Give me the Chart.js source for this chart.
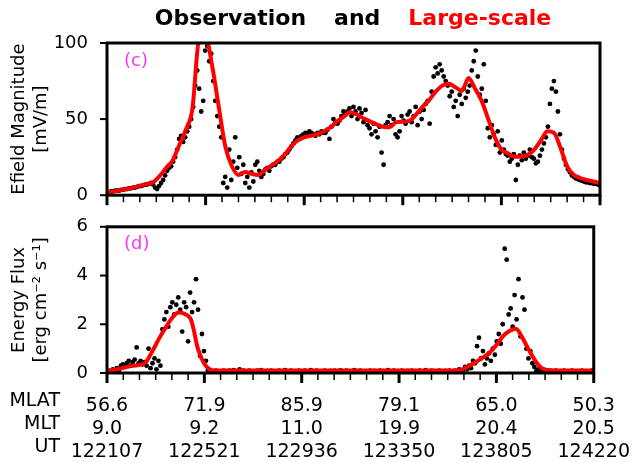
<!DOCTYPE html>
<html>
<head>
<meta charset="utf-8">
<script src="https://cdn.jsdelivr.net/npm/chart.js@4/dist/chart.umd.min.js"></script>
<style>
  html, body { margin: 0; padding: 0; background: #fff; }
  #wrap { position: relative; width: 644px; height: 462px; }
  canvas { position: absolute; left: 0; }
  #efieldChart { top: 0; }
  #fluxChart { top: 205px; }
</style>
</head>
<body>
<div id="wrap">
  <canvas id="efieldChart" width="644" height="217"></canvas>
  <canvas id="fluxChart" width="644" height="257"></canvas>
</div>
<script>
// x axis: seconds since 12:21:07 UT
const passSeconds = 1273;
const mlatLabels = ['56.6', '71.9', '85.9', '79.1', '65.0', '50.3'];
const mltLabels = ['9.0', '9.2', '11.0', '19.9', '20.4', '20.5'];
const utLabels = ['122107', '122521', '122936', '123350', '123805', '124220'];
const rowTitles = ['MLAT', 'MLT', 'UT'];

// observed efield magnitude [mV/m], evenly spaced over the pass
const efieldObs = [
  2, 2, 2.5, 2.5, 3, 3, 3, 3.5, 3.5, 4,
  4, 4.5, 4.5, 5, 5, 5.5, 6, 6, 6.5, 7,
  7, 7.5, 8, 7, 5, 4, 6, 8, 10, 13,
  16, 18, 19, 22, 25, 30, 37, 39, 35, 38,
  42, 45, 50, 58, 72, 82, 70, 55, 62, 95,
  98, 88, 93, 75, 62, 52, 45, 38, 8, 12,
  5, 30, 10, 22, 38, 18, 25, 14, 20, 8,
  12, 5, 15, 9, 20, 22, 16, 12, 14, 17,
  18, 16, 19, 20, 20, 22, 22, 24, 25, 27,
  28, 30, 32, 34, 36, 38, 37, 39, 40, 41,
  40, 42, 41, 40, 39, 41, 40, 42, 41, 41,
  43, 37, 45, 50, 48, 47, 49, 52, 55, 53,
  55, 57, 52, 58, 55, 50, 57, 54, 48, 56,
  46, 44, 40, 47, 42, 38, 45, 28, 20, 46,
  48, 52, 46, 50, 40, 38, 42, 52, 49, 47,
  53, 55, 48, 52, 58, 46, 55, 50, 56, 60,
  62, 47, 68, 78, 84, 80, 86, 82, 78, 75,
  72, 65, 68, 58, 62, 52, 66, 60, 70, 64,
  68, 72, 82, 88, 95, 78, 66, 70, 86, 62,
  44, 38, 46, 40, 33, 42, 28, 36, 30, 27,
  26, 22, 24, 27, 10, 20, 26, 23, 28, 24,
  26, 30, 25, 24, 21, 22, 26, 30, 34, 38,
  45, 60, 70, 75, 68, 55, 40, 30, 24, 20,
  17, 15, 13, 12, 11, 10.5, 10, 9.5, 9, 8.5,
  8.5, 8, 8, 7.5, 7.5, 7, 7
];

// large-scale efield [mV/m]
const efieldModel = [
  2, 2.5, 3.2, 4, 5, 6.2, 7.3, 8.5, 12.5, 18,
  23, 33, 43, 57, 102, 104, 85, 58, 32, 19,
  13.3, 15.3, 14, 13.3, 16.5, 19.5, 22.5, 26.5, 32, 36,
  38, 39, 40, 42, 44.5, 48.5, 51.5, 54.5, 53, 50.5,
  48.5, 46.5, 45, 44.7, 48, 48.3, 48.8, 53, 58, 62.5,
  68, 72, 73.3, 71, 68.5, 77, 70, 62, 50, 38,
  30, 27.5, 25.3, 25.2, 26.5, 30, 36, 42, 41, 31,
  19, 13.5, 11.3, 10, 9, 8
];

// observed energy flux [erg cm^-2 s^-1]
const fluxObs = [
  0.05, 0.1, 0.05, 0.15, 0.1, 0.2, 0.1, 0.3, 0.35, 0.25,
  0.4, 0.5, 0.3, 0.45, 0.55, 1.05, 0.4, 0.5, 0.35, 0.45,
  0.3, 1.0, 0.2, 0.4, 0.6, 0.15, 0.5, 0.3, 1.8, 2.2,
  2.5, 1.9, 2.7, 2.9, 2.4, 2.8, 3.1, 2.6, 1.7, 2.9,
  2.7, 1.3, 3.3, 2.5, 2.9, 3.85, 2.6, 0.7, 1.6, 0.9,
  0.5, 0.1, 0.05, 0.08, 0.05, 0.1, 0.05, 0.07, 0.05, 0.1,
  0.05, 0.08, 0.1, 0.06, 0.12, 0.05, 0.08, 0.15, 0.06, 0.1,
  0.05, 0.07, 0.1, 0.05, 0.08, 0.06, 0.1, 0.05, 0.12, 0.07,
  0.05, 0.09, 0.06, 0.1, 0.05, 0.08, 0.05, 0.1, 0.06, 0.08,
  0.12, 0.05, 0.07, 0.1, 0.05, 0.08, 0.06, 0.1, 0.05, 0.07,
  0.1, 0.06, 0.05, 0.12, 0.08, 0.05, 0.1, 0.06, 0.08, 0.05,
  0.1, 0.07, 0.05, 0.09, 0.06, 0.1, 0.05, 0.08, 0.11, 0.06,
  0.05, 0.1, 0.07, 0.05, 0.08, 0.12, 0.06, 0.05, 0.1, 0.07,
  0.05, 0.08, 0.06, 0.1, 0.05, 0.09, 0.07, 0.05, 0.1, 0.06,
  0.08, 0.05, 0.12, 0.07, 0.05, 0.1, 0.06, 0.08, 0.05, 0.1,
  0.07, 0.05, 0.09, 0.06, 0.1, 0.05, 0.08, 0.06, 0.1, 0.05,
  0.07, 0.12, 0.06, 0.05, 0.1, 0.08, 0.05, 0.07, 0.1, 0.06,
  0.05, 0.09, 0.06, 0.1, 0.05, 0.08, 0.1, 0.06, 0.15, 0.08,
  0.1, 0.25, 0.15, 0.3, 0.2, 0.5, 0.4, 1.1, 1.45, 0.6,
  0.9, 0.35, 0.6, 0.8, 0.5, 1.0, 0.75, 1.3, 1.6, 1.2,
  2.0, 5.1, 4.65, 2.4, 2.65, 1.9, 3.2, 2.2, 3.85, 1.5,
  3.1, 2.6, 1.0, 0.6, 0.9, 0.4, 0.25, 0.1, 0.15, 0.05,
  0.1, 0.05, 0.08, 0.05, 0.1, 0.05, 0.08, 0.1, 0.05, 0.08,
  0.05, 0.1, 0.05, 0.08, 0.05, 0.1, 0.06, 0.05, 0.08, 0.05,
  0.1, 0.05, 0.08, 0.06, 0.05, 0.1, 0.08
];

// large-scale energy flux
const fluxModel = [
  0.08, 0.12, 0.18, 0.24, 0.3, 0.33, 0.45, 0.9, 1.4, 1.85,
  2.25, 2.48, 2.42, 2.15, 1.0, 0.38, 0.13, 0.1, 0.1, 0.1,
  0.1, 0.1, 0.1, 0.1, 0.1, 0.1, 0.1, 0.1, 0.1, 0.1,
  0.1, 0.1, 0.1, 0.1, 0.1, 0.1, 0.1, 0.1, 0.1, 0.1,
  0.1, 0.1, 0.1, 0.1, 0.1, 0.1, 0.1, 0.1, 0.1, 0.1,
  0.1, 0.1, 0.1, 0.1, 0.1, 0.18, 0.32, 0.48, 0.65, 0.85,
  1.15, 1.5, 1.72, 1.82, 1.45, 0.95, 0.5, 0.2, 0.12, 0.1,
  0.1, 0.1, 0.1, 0.1, 0.1, 0.1
];

Chart.defaults.font.family = "'DejaVu Sans', sans-serif";
Chart.defaults.color = '#000';

function toPoints(values) {
  return values.map((v, i) => ({ x: passSeconds * i / (values.length - 1), y: v }));
}

// frame + tick marks drawn through the chart's scales
const framePlugin = {
  id: 'frame',
  afterDraw(chart) {
    const { ctx, chartArea: a, scales } = chart;
    ctx.save();
    ctx.strokeStyle = '#000';
    ctx.lineWidth = 3;
    ctx.strokeRect(a.left, a.top, a.right - a.left, a.bottom - a.top);
    for (let k = 0; k <= 30; k++) {
      const px = scales.x.getPixelForValue(passSeconds * k / 30);
      const major = k % 6 === 0;
      ctx.lineWidth = major ? 3 : 1.5;
      ctx.beginPath();
      ctx.moveTo(px, a.bottom);
      ctx.lineTo(px, a.bottom + (major ? 10 : 7));
      ctx.stroke();
    }
    ctx.lineWidth = 2;
    scales.y.ticks.forEach(t => {
      const py = scales.y.getPixelForValue(t.value);
      ctx.beginPath();
      ctx.moveTo(a.left, py);
      ctx.lineTo(a.left - 7, py);
      ctx.stroke();
    });
    // panel letter
    ctx.fillStyle = '#ff33ff';
    ctx.font = "18px 'DejaVu Sans'";
    ctx.textBaseline = 'middle';
    ctx.textAlign = 'left';
    ctx.fillText(chart.options.plugins.frame.letter, a.left + 17, a.top + 18);
    ctx.restore();
  }
};

const titlePlugin = {
  id: 'mixedTitle',
  afterDraw(chart) {
    const { ctx } = chart;
    const words = [['Observation', '#000'], ['and', '#000'], ['Large-scale', '#ff0000']];
    ctx.save();
    ctx.font = "bold 22px 'DejaVu Sans'";
    ctx.textBaseline = 'middle';
    ctx.textAlign = 'left';
    const gap = 28;
    const total = words.reduce((s, w) => s + ctx.measureText(w[0]).width, 0) + gap * 2;
    let x = 353 - total / 2;
    words.forEach(([text, color]) => {
      ctx.fillStyle = color;
      ctx.fillText(text, x, 19);
      x += ctx.measureText(text).width + gap;
    });
    ctx.restore();
  }
};

const rowTitlePlugin = {
  id: 'rowTitles',
  afterDraw(chart) {
    const { ctx, chartArea: a } = chart;
    ctx.save();
    ctx.font = "19px 'DejaVu Sans'";
    ctx.fillStyle = '#000';
    ctx.textAlign = 'right';
    ctx.textBaseline = 'middle';
    rowTitles.forEach((t, i) => ctx.fillText(t, 60, a.bottom + 28 + i * 23));
    ctx.restore();
  }
};

function makeChart(id, obs, model, yMax, yStep, yTitle, letter, showX, padding) {
  return new Chart(document.getElementById(id), {
    type: 'scatter',
    data: {
      datasets: [
        {
          data: toPoints(model),
          showLine: true,
          borderColor: '#ff0000',
          borderWidth: 4,
          pointRadius: 0,
          cubicInterpolationMode: 'monotone'
        },
        {
          data: toPoints(obs),
          pointRadius: 2.4,
          pointBackgroundColor: '#000',
          pointBorderWidth: 0
        }
      ]
    },
    options: {
      responsive: false,
      animation: false,
      devicePixelRatio: 1,
      layout: { padding },
      plugins: {
        legend: { display: false },
        tooltip: { enabled: false },
        frame: { letter }
      },
      scales: {
        x: {
          type: 'linear',
          min: 0,
          max: passSeconds,
          display: showX,
          grid: { display: false },
          border: { display: false },
          afterBuildTicks: s => { s.ticks = mlatLabels.map((_, i) => ({ value: passSeconds * i / 5 })); },
          afterFit: s => { s.height = showX ? 89 : 0; },
          ticks: {
            autoSkip: false,
            maxRotation: 0,
            padding: 14,
            font: { size: 19, lineHeight: 1.21 },
            callback: (v, i) => [mlatLabels[i], mltLabels[i], utLabels[i]]
          }
        },
        y: {
          min: 0,
          max: yMax,
          grid: { display: false },
          border: { display: false },
          afterFit: s => { s.width = 107; },
          ticks: { stepSize: yStep, padding: 11, font: { size: 18 } },
          title: {
            display: true,
            text: yTitle,
            font: { size: 18 },
            padding: { top: 9, bottom: 0 }
          }
        }
      }
    },
    plugins: showX ? [framePlugin, rowTitlePlugin] : [framePlugin, titlePlugin]
  });
}

makeChart('efieldChart', efieldObs, efieldModel, 100, 50,
  ['Efield Magnitude', '[mV/m]'], '(c)', false, { top: 43, right: 44, bottom: 0, left: 0 });
makeChart('fluxChart', fluxObs, fluxModel, 6, 2,
  ['Energy Flux', '[erg cm\u207B\u00B2 s\u207B\u00B9]'], '(d)', true, { top: 18, right: 44, bottom: 0, left: 0 });
</script>
</body>
</html>
